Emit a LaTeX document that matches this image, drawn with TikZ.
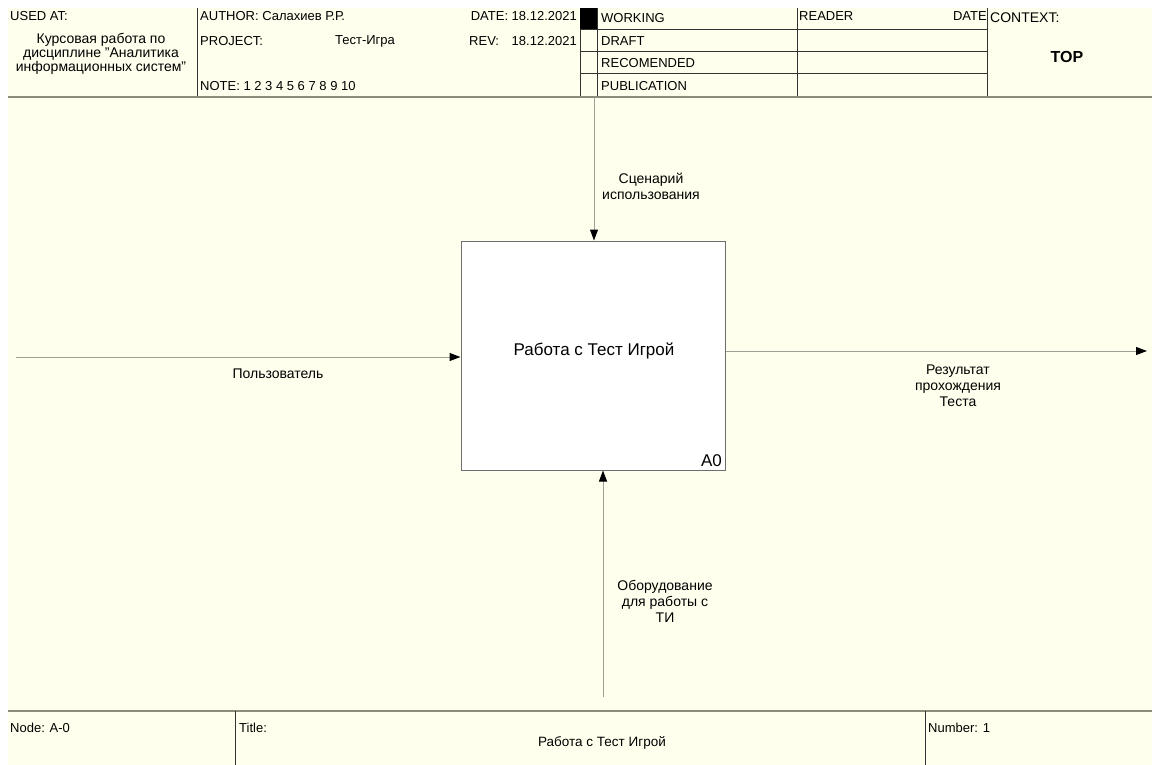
\documentclass[tikz,border=0pt]{standalone}
\usepackage{fontspec}
\setmainfont{Liberation Sans}
\usetikzlibrary{arrows.meta}
\definecolor{cream}{RGB}{255,255,238}
\definecolor{rule}{RGB}{140,140,125}
\definecolor{conn}{RGB}{160,160,150}
\definecolor{boxline}{RGB}{110,110,110}
\tikzset{
  hdr/.style={font=\fontsize{13}{15}\selectfont, inner sep=0pt, anchor=west},
  lbl/.style={font=\fontsize{14}{16}\selectfont, align=center, inner sep=0pt},
  grid/.style={draw=black!80, line width=0.8pt},
  band/.style={draw=rule, line width=2pt},
  flow/.style={draw=conn, line width=1pt, -{Triangle[length=11pt,width=8pt,color=black]}},
  func/.style={draw=boxline, line width=1pt, fill=white, minimum width=264pt, minimum height=229pt, inner sep=0pt}
}
\begin{document}
\begin{tikzpicture}[x=1pt,y=-1pt]
\useasboundingbox (0,0) rectangle (1152,765);
\fill[white] (0,0) rectangle (1152,765);
\fill[cream] (8,8) rectangle (1152,765);
% header grid
\draw[grid] (197,8) -- (197,97);
\draw[grid] (580,8) -- (580,97);
\draw[grid] (597,8) -- (597,97);
\draw[grid] (797,8) -- (797,97);
\draw[grid] (987,8) -- (987,97);
\draw[grid] (580,29) -- (987,29);
\draw[grid] (580,51) -- (987,51);
\draw[grid] (580,73) -- (987,73);
\fill[black] (580,8) rectangle (597,29);
\draw[band] (8,97) -- (1152,97);
% header texts
\node[hdr] (usedat) at (10,16) {USED AT:};
\node[lbl, font=\fontsize{14}{14}\selectfont] (course) at (101,54) {Курсовая работа по\\дисциплине "Аналитика\\информационных систем"};
\node[hdr] (author) at (200,16) {AUTHOR: Салахиев Р.Р.};
\node[hdr] (project) at (200,41) {PROJECT:};
\node[hdr, anchor=center] (projname) at (365,41) {Тест-Игра};
\node[hdr] (note) at (200,86) {NOTE: 1 2 3 4 5 6 7 8 9 10};
\node[hdr, anchor=east] (date) at (577,16) {DATE: 18.12.2021};
\node[hdr] (rev) at (469,41) {REV:};
\node[hdr, anchor=east] (revdate) at (577,41) {18.12.2021};
\node[hdr] (working) at (601,18) {WORKING};
\node[hdr] (draft) at (601,41) {DRAFT};
\node[hdr] (recom) at (601,63) {RECOMENDED};
\node[hdr] (publ) at (601,86) {PUBLICATION};
\node[hdr] (reader) at (799,16) {READER};
\node[hdr, anchor=east] (rdate) at (987,16) {DATE};
\node[hdr, font=\fontsize{14}{16}\selectfont] (context) at (990,18) {CONTEXT:};
\node[font=\bfseries\fontsize{16}{18}\selectfont, inner sep=0pt] (top) at (1067,57) {TOP};
% footer
\draw[band] (8,711) -- (1152,711);
\draw[grid] (235,711) -- (235,765);
\draw[grid] (925,711) -- (925,765);
\node[hdr] (nodelbl) at (10,728) {Node: A-0};
\node[hdr] (titlelbl) at (239,728) {Title:};
\node[hdr, anchor=center, font=\fontsize{13.5}{15}\selectfont] (titletxt) at (602,743) {Работа с Тест Игрой};
\node[hdr] (number) at (928,728) {Number: 1};
% function box
\node[func] (a0) at (593,355.5) {};
\node[font=\fontsize{17}{19}\selectfont, inner sep=0pt] (a0name) at (594,351) {Работа с Тест Игрой};
\node[font=\fontsize{17}{19}\selectfont, inner sep=0pt, anchor=south east] (a0num) at (722,467) {A0};
% connector ends
\coordinate (ctop) at (594,97);
\coordinate (cleft) at (16,357);
\coordinate (cright) at (1147,351);
\coordinate (cbot) at (603,697);
\draw[flow] (ctop) -- (ctop |- a0.north);
\draw[flow] (cleft) -- (cleft -| a0.west);
\draw[flow] (a0.east |- cright) -- (cright);
\draw[flow] (cbot) -- (cbot |- a0.south);
% labels
\node[lbl] (ltop) at (651,186) {Сценарий\\использования};
\node[lbl] (lleft) at (278,374) {Пользователь};
\node[lbl] (lright) at (958,386) {Результат\\прохождения\\Теста};
\node[lbl] (lbot) at (665,601) {Оборудование\\для работы с\\ТИ};
\end{tikzpicture}
\end{document}
